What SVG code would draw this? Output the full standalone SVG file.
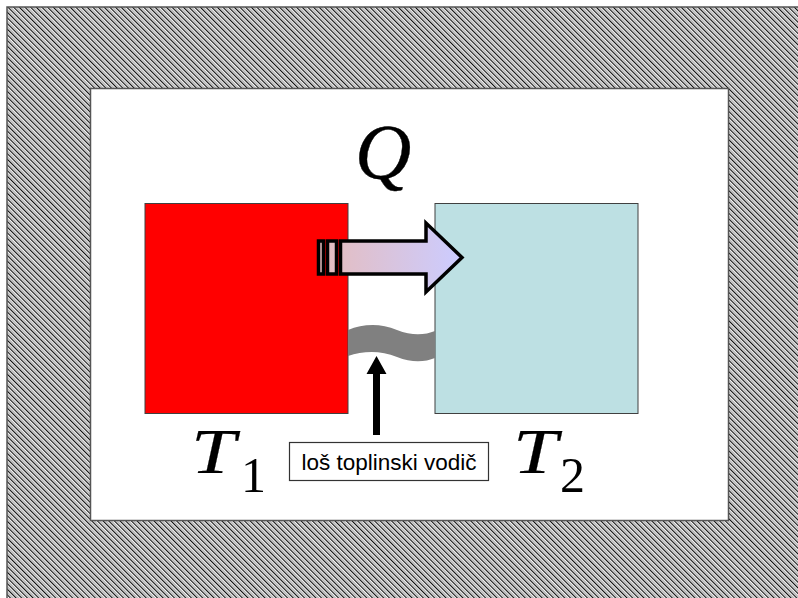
<svg xmlns="http://www.w3.org/2000/svg" width="798" height="598" viewBox="0 0 798 598">
<defs>
<pattern id="hatch" width="4" height="4" patternUnits="userSpaceOnUse" patternTransform="rotate(-45)">
<rect x="0" y="0" width="4" height="4" fill="#ffffff"/>
<rect x="0" y="0" width="1.2" height="4" fill="#111111"/>
<rect x="2.2" y="0" width="0.9" height="4" fill="#a0a0a0"/>
</pattern>
<linearGradient id="grad" gradientUnits="userSpaceOnUse" x1="318" y1="0" x2="460" y2="0">
<stop offset="0" stop-color="#e6bcbc"/>
<stop offset="1" stop-color="#ccccff"/>
</linearGradient>
</defs>
<style>
.sq{stroke:#404040;stroke-width:1}
.math{font-family:"Liberation Serif","Times New Roman",serif;font-style:italic;fill:#000}
.sub{font-family:"Liberation Serif","Times New Roman",serif;fill:#000}
.lbl{font-family:"Liberation Sans",Arial,sans-serif;font-size:22.5px;fill:#000}
.ar{stroke:#000;stroke-width:3.5;stroke-linejoin:miter;fill:url(#grad)}
</style>
<rect x="0" y="0" width="798" height="598" fill="#ffffff"/>
<g id="frame">
<rect x="7" y="7" width="800" height="600" fill="url(#hatch)" stroke="#555555" stroke-width="1.5"/>
<rect x="90.5" y="88.5" width="638" height="432" fill="#ffffff" stroke="#555555" stroke-width="1.5"/>
</g>
<g id="body1">
<rect class="sq" x="145" y="203.5" width="203" height="210" fill="#ff0000"/>
</g>
<g id="body2">
<rect class="sq" x="435" y="203.5" width="203" height="210" fill="#bde0e3"/>
</g>
<g id="conductor">
<path d="M348,330 C363,324 380,323 397,330 C412,336 425,335 435,331 L435,358 C425,362 412,363 397,357 C380,350 363,351 348,356 Z" fill="#808080"/>
</g>
<g id="heat-arrow">
<rect class="ar" x="318.5" y="241" width="5" height="33"/>
<rect class="ar" x="327.5" y="241" width="9" height="33"/>
<polygon class="ar" points="340.5,241 426,241 426,223 462,257.5 426,292 426,274 340.5,274"/>
</g>
<g id="connectors">
<polygon points="376.5,356 386.5,374 380,374 380,435 373,435 373,374 366.5,374" fill="#000"/>
</g>
<g id="label">
<rect x="289.5" y="442.5" width="199" height="38" fill="#ffffff" stroke="#333333" stroke-width="1.2"/>
<text class="lbl" x="389" y="469.5" text-anchor="middle">loš toplinski vodič</text>
</g>
<g id="Q">
<text class="math" x="355" y="178" font-size="78" stroke="#000" stroke-width="0.4">Q</text>
</g>
<g id="T1">
<text class="math" transform="translate(191,473) scale(1.25,1)" x="0" y="0" font-size="64" stroke="#000" stroke-width="0.2">T</text>
<text class="sub" x="241" y="492" font-size="50">1</text>
</g>
<g id="T2">
<text class="math" transform="translate(513,473) scale(1.25,1)" x="0" y="0" font-size="64" stroke="#000" stroke-width="0.2">T</text>
<text class="sub" x="560" y="492" font-size="50">2</text>
</g>
</svg>
